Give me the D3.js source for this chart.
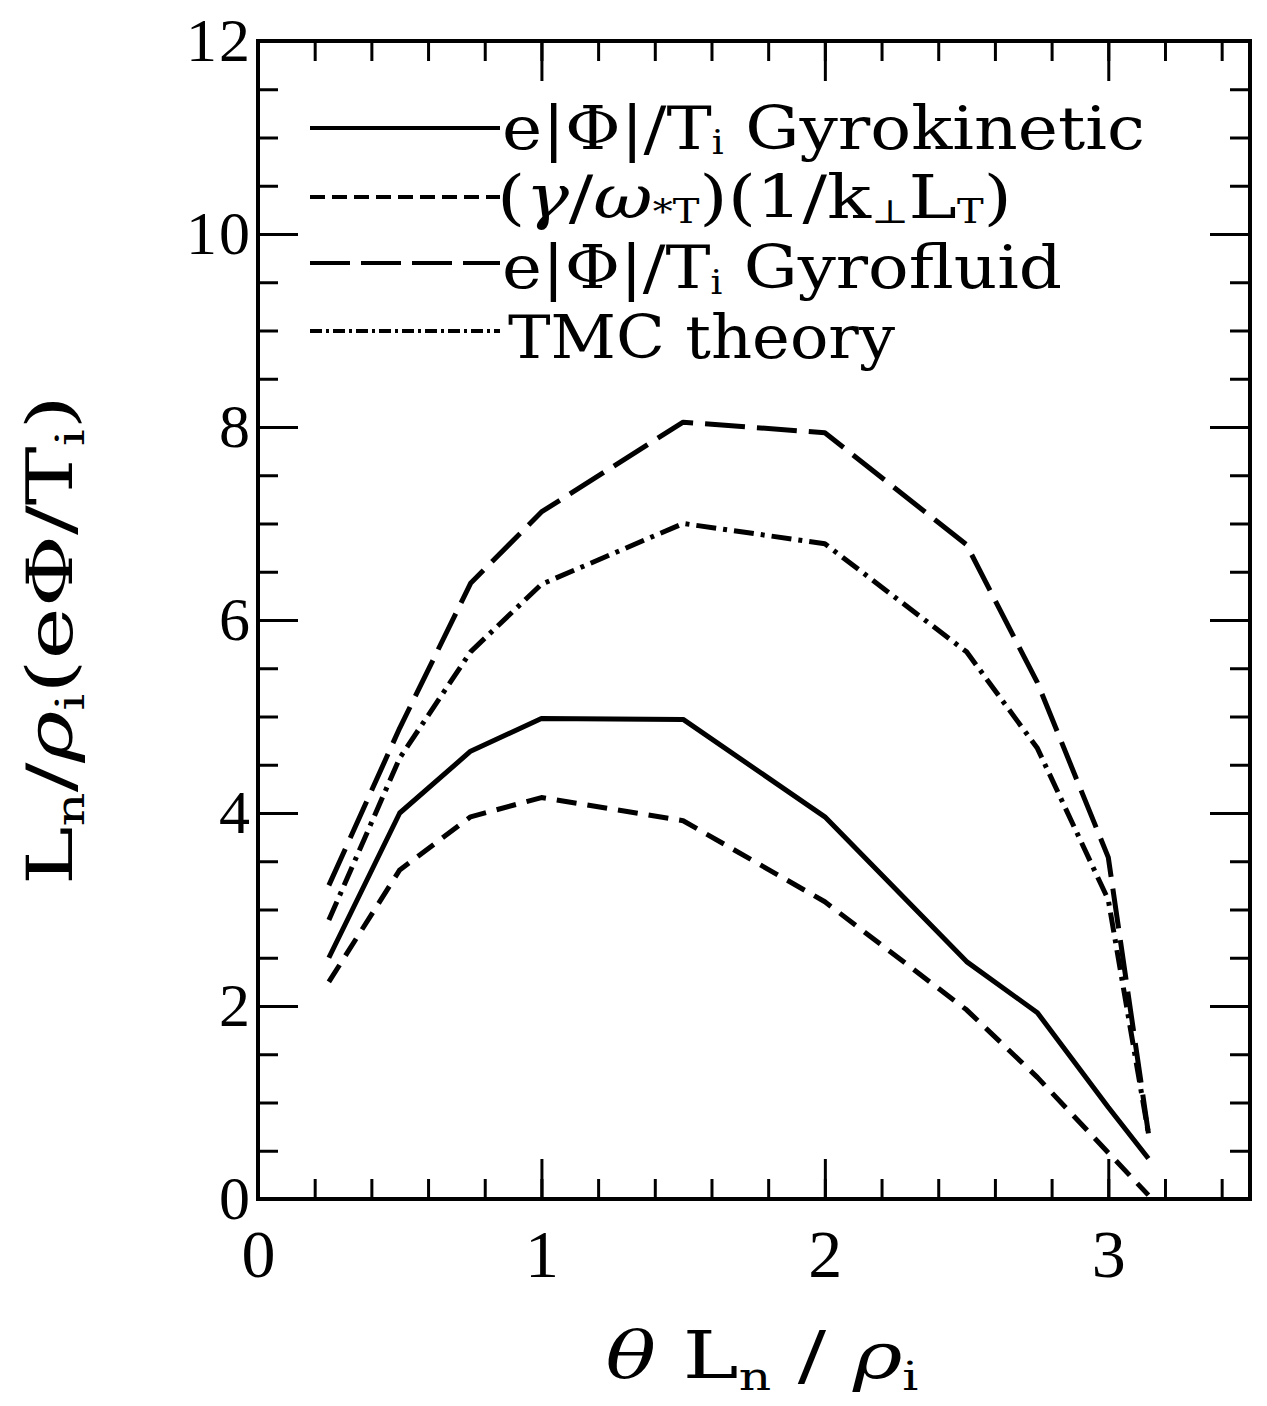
<!DOCTYPE html>
<html><head><meta charset="utf-8">
<script src="https://cdn.jsdelivr.net/npm/d3@7"></script>
<style>
body{margin:0;background:#fff;}
svg text{fill:#000;}
</style></head>
<body>
<svg id="chart" width="1267" height="1406"></svg>
<script>
// ---- data ----
const xValues = [0.25, 0.5, 0.75, 1.0, 1.5, 2.0, 2.5, 2.75, 3.0, 3.1416];
const gyrokinetic = [2.5, 4.0, 4.64, 4.98, 4.97, 3.96, 2.46, 1.93, 0.95, 0.42];
const growthEstimate = [2.25, 3.41, 3.96, 4.16, 3.92, 3.08, 1.96, 1.26, 0.48, 0.04];
const gyrofluid = [3.25, 4.88, 6.38, 7.12, 8.05, 7.94, 6.78, 5.35, 3.54, 0.68];
const tmcTheory = [2.89, 4.57, 5.67, 6.37, 7.0, 6.79, 5.67, 4.67, 3.1, 0.68];
const xMajorTicks = [0, 1, 2, 3];
const yMajorTicks = [0, 2, 4, 6, 8, 10, 12];

const svg = d3.select("#chart");
const x = d3.scaleLinear().domain([0, 3.5]).range([258, 1250]);
const y = d3.scaleLinear().domain([0, 12]).range([1199, 41]);

const serif = "'DejaVu Serif', serif";
const numFont = "'Liberation Serif', serif";

// ---- axes (ticks inward on all four sides) ----
const xMinor = d3.range(0, 3.5001, 0.2).map(v => +v.toFixed(2));
const yMinor = d3.range(0, 12.001, 0.5);

function styleAxis(g){
  g.select(".domain").remove();
  g.selectAll(".tick line").attr("stroke","#000").attr("stroke-width",3);
}
svg.append("g").attr("transform",`translate(0,${y(0)})`)
  .call(d3.axisBottom(x).tickValues(xMinor).tickSize(-20).tickFormat("")).call(styleAxis);
svg.append("g").attr("transform",`translate(0,${y(0)})`)
  .call(d3.axisBottom(x).tickValues(xMajorTicks).tickSize(-40).tickPadding(30).tickFormat(d3.format("d")))
  .call(styleAxis)
  .call(g => g.selectAll("text").attr("font-family",numFont).attr("font-size",68).attr("fill","#000"));
svg.append("g").attr("transform",`translate(0,${y(12)})`)
  .call(d3.axisTop(x).tickValues(xMinor).tickSize(-20).tickFormat("")).call(styleAxis);
svg.append("g").attr("transform",`translate(0,${y(12)})`)
  .call(d3.axisTop(x).tickValues(xMajorTicks).tickSize(-40).tickFormat("")).call(styleAxis);

svg.append("g").attr("transform",`translate(${x(0)},0)`)
  .call(d3.axisLeft(y).tickValues(yMinor).tickSize(-20).tickFormat("")).call(styleAxis);
svg.append("g").attr("transform",`translate(${x(0)},0)`)
  .call(d3.axisLeft(y).tickValues(yMajorTicks).tickSize(-40).tickPadding(6).tickFormat(d3.format("d")))
  .call(styleAxis)
  .call(g => g.selectAll("text").attr("font-family",numFont).attr("font-size",62).attr("fill","#000").attr("letter-spacing",2));
svg.append("g").attr("transform",`translate(${x(3.5)},0)`)
  .call(d3.axisRight(y).tickValues(yMinor).tickSize(-20).tickFormat("")).call(styleAxis);
svg.append("g").attr("transform",`translate(${x(3.5)},0)`)
  .call(d3.axisRight(y).tickValues(yMajorTicks).tickSize(-40).tickFormat("")).call(styleAxis);

// frame
svg.append("rect").attr("x",x(0)).attr("y",y(12)).attr("width",x(3.5)-x(0)).attr("height",y(0)-y(12))
  .attr("fill","none").attr("stroke","#000").attr("stroke-width",4);

// ---- series ----
const series = [
  {name:"gk", vals:gyrokinetic, dash:null, legendDash:null},
  {name:"est", vals:growthEstimate, dash:"20,11", legendDash:"15,7"},
  {name:"gf", vals:gyrofluid, dash:"40,12", legendDash:"40,11"},
  {name:"tmc", vals:tmcTheory, dash:"20,7,4,7", legendDash:"12,4,3,4"}
];
const line = d3.line().x((d,i)=>x(xValues[i])).y(d=>y(d));
series.forEach(s=>{
  svg.append("path").datum(s.vals).attr("d",line)
    .attr("fill","none").attr("stroke","#000").attr("stroke-width",5)
    .attr("stroke-linejoin","round")
    .attr("stroke-dasharray",s.dash);
});

// ---- legend ----
const legendRows = [128, 197, 263, 331];
legendRows.forEach((ly,i)=>{
  svg.append("line").attr("x1",310).attr("x2",500).attr("y1",ly).attr("y2",ly)
    .attr("stroke","#000").attr("stroke-width",4).attr("stroke-dasharray",series[i].legendDash);
});
function addText(xp, yp, parts, size, opts={}){
  const t = svg.append("text").attr("x",xp).attr("y",yp)
    .attr("font-family",serif).attr("font-size",size);
  if(opts.anchor) t.attr("text-anchor",opts.anchor);
  if(opts.transform) t.attr("transform",opts.transform);
  if(opts.textLength) t.attr("textLength",opts.textLength).attr("lengthAdjust","spacingAndGlyphs");
  const sd = opts.subShift || 0.18;
  const ss = opts.subSize || 0.6;
  parts.forEach(p=>{
    const ts = t.append("tspan").text(p.t);
    if(p.sub){ ts.attr("font-size",size*ss).attr("dy",size*sd); }
    if(p.up){ ts.attr("dy",-size*sd); }
    if(p.it) ts.attr("font-style","italic");
  });
  return t;
}
addText(502,149,[{t:"e|Φ|/T"},{t:"i",sub:true},{t:" Gyrokinetic",up:true}],60,{textLength:643,subShift:0.08,subSize:0.55});
addText(497,218,[{t:"("},{t:"γ",it:true},{t:"/"},{t:"ω",it:true},{t:"*T",sub:true},{t:")(1/k",up:true},{t:"⊥",sub:true},{t:"L",up:true},{t:"T",sub:true},{t:")",up:true}],60,{textLength:515,subShift:0.08,subSize:0.55});
addText(502,288,[{t:"e|Φ|/T"},{t:"i",sub:true},{t:" Gyrofluid",up:true}],60,{textLength:560,subShift:0.1,subSize:0.55});
addText(508,358,[{t:"TMC theory"}],60,{textLength:387});

// ---- axis titles ----
addText(762,1378,[{t:"θ",it:true},{t:"  L"},{t:"n",sub:true},{t:"  /  ",up:true},{t:"ρ",it:true},{t:"i",sub:true}],66,{anchor:"middle",textLength:313});
addText(0,0,[{t:"L"},{t:"n",sub:true},{t:"/",up:true},{t:"ρ",it:true},{t:"i",sub:true},{t:"(eΦ/T",up:true},{t:"i",sub:true},{t:")",up:true}],64,{anchor:"middle",textLength:490,transform:"translate(72,640) rotate(-90)"});
</script>
</body></html>
